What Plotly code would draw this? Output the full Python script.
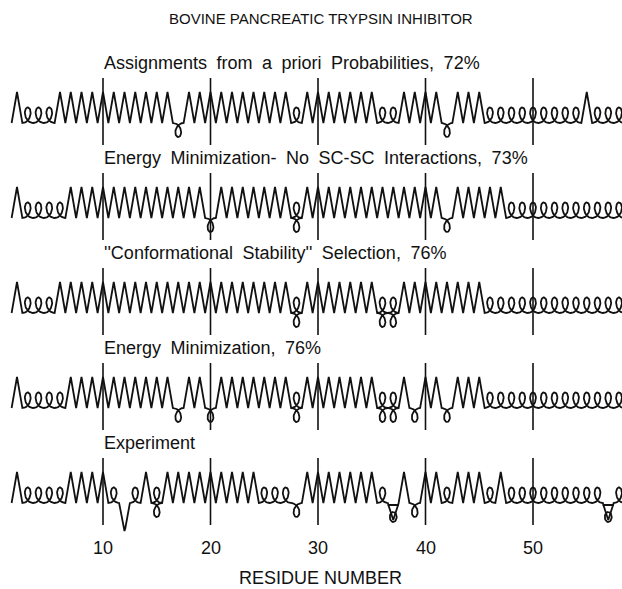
import numpy as np
import plotly.graph_objects as go

TITLE = "BOVINE PANCREATIC TRYPSIN INHIBITOR"
AXIS_TITLE = "RESIDUE NUMBER"
PANEL_TITLES = [
    "Assignments from a priori Probabilities, 72%",
    "Energy Minimization- No SC-SC Interactions, 73%",
    "''Conformational Stability'' Selection, 76%",
    "Energy Minimization, 76%",
    "Experiment",
]

# Conformational state of each residue, starting at residue 2
# (spaces only separate decades: 2-9, 10-19, ..., 50-58).
#   E extended (zigzag), A helical loop, D hanging loop,
#   8 loop above and below, V deep bend, T hanging loop with bar
FIRST_RESIDUE = 2
STATES_PRIORI = "EAAAEEEE EEEEEEEDEE EEEEEEEEAE EEEEEEAAEE EEDEEEAAAA AAAAAEAAA"
STATES_EM_NO_SC = "EAAAAEEE EEEEEEEEEE DEEEEEEE8E EEEEEEEEEE EEDEEEEEAA AAAAAAAAA"
STATES_STABILITY = "EAAAEEEE EEEEEEEEEE EEEEEEEE8E EEEEEE88EE EEEEEEAAAA AAAAAAAAA"
STATES_EM = "EAAAAEEE EEEEEEEDEE DEEEEEEE8E EEEEEE88ED EEDEEEAAAA AAAAAAAAA"
STATES_EXPERIMENT = "EAAAAEEE EAVAE8EEEE EEEEEAAADE EEEEEEATED EEAEEEAEAA AAAAAAATA"
ROW_STATES = [STATES_PRIORI, STATES_EM_NO_SC, STATES_STABILITY, STATES_EM, STATES_EXPERIMENT]

MARK_RESIDUES = [10, 20, 30, 40, 50]
TICK_LABELS = ["10", "20", "30", "40", "50"]

# ---- layout geometry (y measured downward, in pixels) ----
W, H = 622, 589
PX_PER_RES = 10.75
X_AT_10 = 103.0
X_MIN = 10 - X_AT_10 / PX_PER_RES
X_MAX = X_MIN + W / PX_PER_RES
ROW_BASE = [123, 218, 313, 408, 503]
ZIG = 31.0        # height of an extended-residue zigzag
LOOP_H = 15.5     # height of a helical loop
DROP_H = 14.0     # depth of a hanging loop
LOOP_K = 3.1      # loop tightness of the trochoid
INK = "#111111"
FONT = "Liberation Sans, Arial, Helvetica, sans-serif"
WIDE_SPACE = " \u2005"


def px_to_res(xpix):
    return 10 + (xpix - X_AT_10) / PX_PER_RES


def trochoid(i, base, h, up=True, n=48):
    s = np.linspace(0.0, 1.0, n)
    x = i - 0.5 + s + LOOP_K * np.sin(2 * np.pi * s) / (2 * np.pi)
    dy = h / 2.0 * (1 - np.cos(2 * np.pi * s))
    y = base - dy if up else base + dy
    return list(x), list(y)


def glyph(code, i, base):
    """Return main path points and extra stroke segments for one residue."""
    extra = []
    if code == "E":
        xs, ys = [i - 0.5, i, i + 0.5], [base, base - ZIG, base]
    elif code == "A":
        xs, ys = trochoid(i, base, LOOP_H, up=True)
    elif code == "D":
        xs, ys = trochoid(i, base, DROP_H, up=False)
    elif code == "8":
        xs, ys = trochoid(i, base, LOOP_H, up=True)
        extra.append(trochoid(i, base, DROP_H, up=False))
    elif code == "V":
        xs, ys = [i - 0.5, i - 0.08, i, i + 0.08, i + 0.5], [base, base + 25, base + 28, base + 25, base]
    elif code == "T":
        xs, ys = [i - 0.5, i - 0.45, i + 0.45, i + 0.5], [base, base + 2, base + 2, base]
        extra.append(([i - 0.45, i, i + 0.45], [base + 2, base + 17, base + 2]))
        t = np.linspace(0, 2 * np.pi, 30)
        extra.append((list(i + 0.32 * np.sin(t)), list(base + 14 - 5 * np.cos(t))))
    else:
        xs, ys = [i - 0.5, i + 0.5], [base, base]
    return xs, ys, extra


fig = go.Figure()

for states, base in zip(ROW_STATES, ROW_BASE):
    codes = states.replace(" ", "")
    px, py = [], []
    ex, ey = [], []
    for k, code in enumerate(codes):
        res = FIRST_RESIDUE + k
        xs, ys, extra = glyph(code, res, base)
        if px:
            xs, ys = xs[1:], ys[1:]
        px += xs
        py += ys
        for sx, sy in extra:
            ex += list(sx) + [None]
            ey += list(sy) + [None]
    fig.add_trace(go.Scatter(x=px + [None] + ex, y=py + [None] + ey, mode="lines",
                             line=dict(color=INK, width=1.8, shape="linear"),
                             hoverinfo="skip", showlegend=False))
    for r in MARK_RESIDUES:
        fig.add_shape(type="line", xref="x", yref="y", x0=r, x1=r,
                      y0=base - 45, y1=base + 22, line=dict(color=INK, width=1.6))

# titles
fig.add_annotation(x=px_to_res(321), y=18, xref="x", yref="y", text=TITLE,
                   showarrow=False, font=dict(family=FONT, size=15, color=INK),
                   xanchor="center", yanchor="middle")
for title, base in zip(PANEL_TITLES, ROW_BASE):
    fig.add_annotation(x=MARK_RESIDUES[0] - 0.05, y=base - 60, xref="x", yref="y",
                       text=title.replace(" ", WIDE_SPACE),
                       showarrow=False, font=dict(family=FONT, size=18, color=INK),
                       xanchor="left", yanchor="middle")

# residue axis labels
for r, lab in zip(MARK_RESIDUES, TICK_LABELS):
    fig.add_annotation(x=r, y=548, xref="x", yref="y", text=lab, showarrow=False,
                       font=dict(family=FONT, size=18, color=INK),
                       xanchor="center", yanchor="middle")
fig.add_annotation(x=px_to_res(320), y=578, xref="x", yref="y", text=AXIS_TITLE,
                   showarrow=False, font=dict(family=FONT, size=18, color=INK),
                   xanchor="center", yanchor="middle")

fig.update_layout(
    width=W, height=H,
    margin=dict(l=0, r=0, t=0, b=0),
    paper_bgcolor="white", plot_bgcolor="white",
    xaxis=dict(range=[X_MIN, X_MAX], visible=False, fixedrange=True),
    yaxis=dict(range=[H, 0], visible=False, fixedrange=True),
)

fig.write_html("out.html")
